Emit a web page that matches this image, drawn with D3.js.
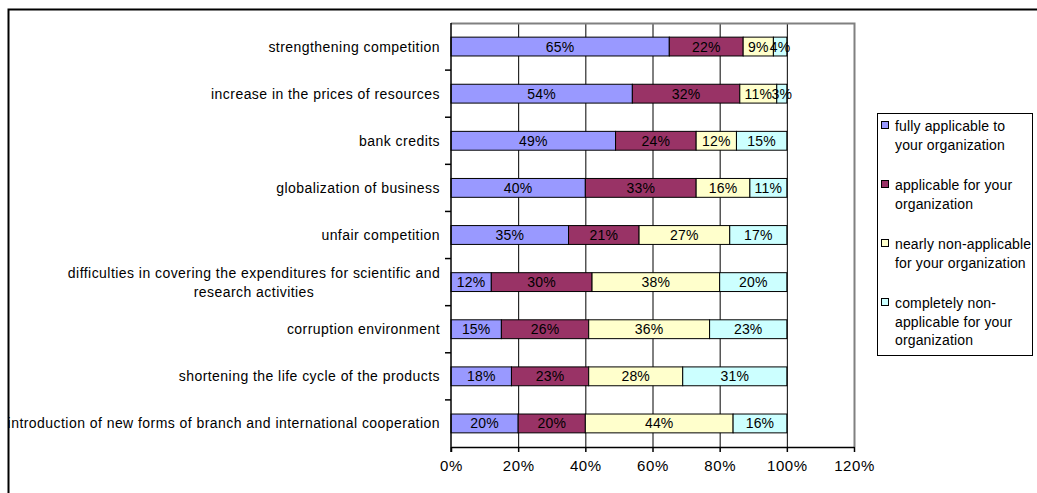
<!DOCTYPE html>
<html><head><meta charset="utf-8">
<script src="https://cdn.jsdelivr.net/npm/d3@7"></script>
<style>body{margin:0;background:#fff;}svg{display:block;font-family:"Liberation Sans",Arial,sans-serif;}</style>
</head><body><svg id="c" width="1037" height="493"></svg>
<script>
const categories = [
 "strengthening competition",
 "increase in the prices of resources",
 "bank credits",
 "globalization of business",
 "unfair competition",
 "difficulties in covering the expenditures for scientific and|research activities",
 "corruption environment",
 "shortening the life cycle of the products",
 "introduction of new forms of branch and international cooperation"
];
const seriesNames = ["fully applicable to|your organization","applicable for your|organization","nearly non-applicable|for your organization","completely non-|applicable for your|organization"];
const fully      = [65,54,49,40,35,12,15,18,20];
const applicable = [22,32,24,33,21,30,26,23,20];
const nearlyNon  = [9,11,12,16,27,38,36,28,44];
const completely = [4,3,15,11,17,20,23,31,16];
const xTicks = [0,20,40,60,80,100,120];
const colors = ["#9999FF","#993366","#FFFFCC","#CCFFFF"];

const series = [fully, applicable, nearlyNon, completely];
const svg = d3.select("#c");
// outer frame
svg.append("rect").attr("x",8.5).attr("y",9.5).attr("width",1040).attr("height",500)
  .attr("fill","none").attr("stroke","#000").attr("stroke-width",2);

const L=451, R=854, T=23, B=447;
const x = d3.scaleLinear().domain([0,120]).range([L,R]);
const y = d3.scaleBand().domain(categories).range([T,B]).paddingInner(0.6).paddingOuter(0.3);
const yb = d3.scaleBand().domain(categories).range([T,B]);

// gridlines
svg.append("g").selectAll("line").data(xTicks.filter(d=>d>0&&d<120)).join("line")
  .attr("x1",d=>x(d)+0.5).attr("x2",d=>x(d)+0.5).attr("y1",T).attr("y2",B)
  .attr("stroke","#000").attr("stroke-width",1);
// plot border top/right gray
svg.append("path").attr("d",`M${L},${T+0.5}H${R+0.5}V${B}`).attr("fill","none").attr("stroke","#808080").attr("stroke-width",2);

const stacked = d3.stack().keys([0,1,2,3]).value((d,k)=>series[k][d])(d3.range(categories.length));
const g = svg.append("g");
stacked.forEach((s,k)=>{
  g.selectAll(null).data(s).join("rect")
   .attr("x",d=>x(d[0])).attr("width",d=>x(d[1])-x(d[0]))
   .attr("y",(d,i)=>y(categories[i])).attr("height",y.bandwidth())
   .attr("fill",colors[k]).attr("stroke","#000").attr("stroke-width",1);
});
stacked.forEach((s,k)=>{
  g.selectAll(null).data(s).join("text")
   .attr("x",d=>(x(d[0])+x(d[1]))/2).attr("y",(d,i)=>y(categories[i])+y.bandwidth()/2)
   .attr("dy","0.36em").attr("text-anchor","middle").attr("font-size",14).attr("letter-spacing",0.2).attr("fill","#000")
   .text((d,i)=>series[k][i]+"%");
});

// x axis
const xa = svg.append("g").attr("transform",`translate(0,${B})`)
  .call(d3.axisBottom(x).tickValues(xTicks).tickFormat(d=>d+"%").tickSize(5).tickSizeOuter(0));
xa.select(".domain").attr("stroke","#000").attr("stroke-width",1.5);
xa.selectAll(".tick line").attr("stroke","#000").attr("stroke-width",1.5);
xa.selectAll(".tick text").attr("font-size",15).attr("letter-spacing",0.6).attr("font-family","Liberation Sans, Arial, sans-serif").attr("dy","1.0em").attr("y",9).attr("fill","#000");

// y axis
svg.append("line").attr("x1",L).attr("x2",L).attr("y1",T).attr("y2",B+5).attr("stroke","#000").attr("stroke-width",1.5);
svg.append("g").selectAll("line").data(categories.slice(1)).join("line")
  .attr("x1",L-6).attr("x2",L).attr("y1",d=>yb(d)).attr("y2",d=>yb(d)).attr("stroke","#000").attr("stroke-width",1.5);

// category labels
categories.forEach(c=>{
  const cy = y(c)+y.bandwidth()/2;
  const parts = c.split("|");
  if(parts.length===1){
    svg.append("text").attr("x",440).attr("y",cy).attr("dy","0.36em").attr("text-anchor","end")
      .attr("font-size",14).attr("letter-spacing",0.45).attr("fill","#000").text(c);
  } else {
    parts.forEach((p,j)=>{
      svg.append("text").attr("x",254).attr("y",cy+(j-0.5)*19).attr("dy","0.36em").attr("text-anchor","middle")
        .attr("font-size",14).attr("letter-spacing",0.45).attr("fill","#000").text(p);
    });
  }
});

// legend
svg.append("rect").attr("x",877.5).attr("y",113.5).attr("width",155).attr("height",242)
  .attr("fill","#fff").attr("stroke","#000").attr("stroke-width",1);
const legStarts=[126,185,244,303];
seriesNames.forEach((n,k)=>{
  svg.append("rect").attr("x",881.5).attr("y",legStarts[k]-4.5).attr("width",7).attr("height",7)
    .attr("fill",colors[k]).attr("stroke","#000").attr("stroke-width",1);
  n.split("|").forEach((p,j)=>{
    svg.append("text").attr("x",895).attr("y",legStarts[k]+j*18.5).attr("dy","0.36em")
      .attr("font-size",14).attr("letter-spacing",0.15).attr("fill","#000").text(p);
  });
});
</script></body></html>
